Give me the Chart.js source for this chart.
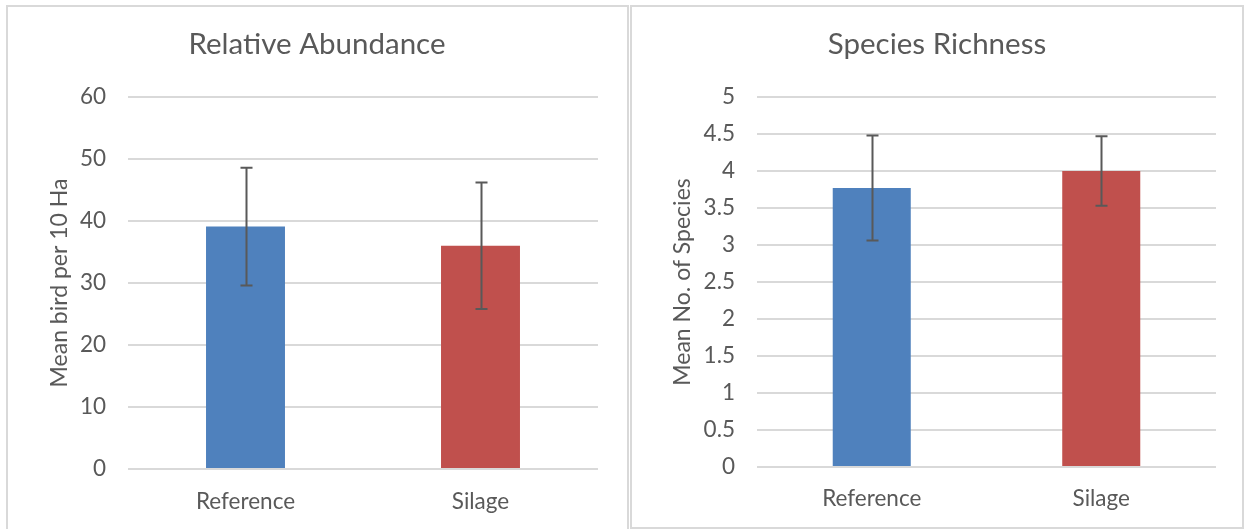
<!DOCTYPE html>
<html>
<head>
<meta charset="utf-8">
<script src="https://cdn.jsdelivr.net/npm/chart.js@4"></script>
<style>
  html, body { margin: 0; padding: 0; background: #fff; width: 1244px; height: 529px; overflow: hidden; }
  .panel { position: absolute; border: 2px solid #d9d9d9; box-sizing: border-box; }
  .wrap { position: absolute; }
</style>
</head>
<body>
<div class="panel" style="left:6px; top:5px; width:623px; height:540px;"></div>
<div class="panel" style="left:630px; top:5px; width:614px; height:524px;"></div>
<div class="wrap" style="left:8px; top:7px; width:618px; height:520px;"><canvas id="chartAbundance"></canvas></div>
<div class="wrap" style="left:632px; top:7px; width:610px; height:520px;"><canvas id="chartRichness"></canvas></div>
<script>
// ── data ──
const categories = ['Reference', 'Silage'];
const abundanceMeans = [39.1, 36.0];
const abundanceErrors = [9.5, 10.2];
const abundanceTicks = { min: 0, max: 60, step: 10 };
const richnessMeans = [3.77, 4.0];
const richnessErrors = [0.71, 0.47];
const richnessTicks = { min: 0, max: 5, step: 0.5 };
const barColors = ['#4F81BD', '#C0504D'];

const TEXT = '#595959';
const GRID = '#D9D9D9';
const FONT = "Lato, 'Open Sans', sans-serif";

// error bars drawn through the y scale
const errorBarPlugin = {
  id: 'errorBars',
  afterDatasetsDraw(chart, args, opts) {
    const ctx = chart.ctx;
    const meta = chart.getDatasetMeta(0);
    const y = chart.scales.y;
    const vals = chart.data.datasets[0].data;
    ctx.save();
    ctx.strokeStyle = '#595959';
    ctx.lineWidth = 2;
    meta.data.forEach((bar, i) => {
      const x = Math.round(bar.x) + 0.5;
      const top = y.getPixelForValue(vals[i] + opts.errors[i]);
      const bot = y.getPixelForValue(vals[i] - opts.errors[i]);
      ctx.beginPath();
      ctx.moveTo(x, top); ctx.lineTo(x, bot);
      ctx.moveTo(x - 6, top); ctx.lineTo(x + 6, top);
      ctx.moveTo(x - 6, bot); ctx.lineTo(x + 6, bot);
      ctx.stroke();
    });
    ctx.restore();
  }
};

function makeChart(el, cfg) {
  return new Chart(el, {
    type: 'bar',
    data: {
      labels: categories,
      datasets: [{
        data: cfg.means,
        backgroundColor: barColors,
        borderWidth: 0,
        categoryPercentage: 1,
        barPercentage: cfg.barPct,
      }],
    },
    plugins: [errorBarPlugin],
    options: {
      responsive: true,
      maintainAspectRatio: false,
      animation: false,
      // equal side padding keeps the title centred on the panel
      layout: { padding: { left: cfg.pad, right: cfg.pad, top: 0, bottom: 0 } },
      plugins: {
        legend: { display: false },
        tooltip: { enabled: false },
        errorBars: { errors: cfg.errors },
        title: {
          display: true,
          text: cfg.title,
          color: TEXT,
          font: { family: FONT, size: 29.5, weight: 'normal', lineHeight: 1.2 },
          padding: { top: 20, bottom: 34.6 },
        },
      },
      scales: {
        x: {
          grid: { display: false, drawTicks: false },
          border: { display: false },
          ticks: { color: TEXT, font: { family: FONT, size: 22.5 }, padding: cfg.xPad },
          afterFit: s => { s.height = cfg.xHeight; },
        },
        y: {
          min: cfg.ticks.min,
          max: cfg.ticks.max,
          grid: { color: GRID, lineWidth: 2, drawTicks: false },
          border: { display: false },
          ticks: {
            stepSize: cfg.ticks.step,
            color: TEXT,
            font: { family: FONT, size: 22.5 },
            padding: cfg.yPad,
            callback: v => String(v),
          },
          title: {
            display: true,
            text: cfg.yTitle,
            color: TEXT,
            font: { family: FONT, size: 23, lineHeight: 1.2 },
            padding: { top: cfg.yTitlePad, bottom: 0 },
          },
          afterFit: s => { s.width = cfg.yWidth; },
        },
      },
    },
  });
}

makeChart(document.getElementById('chartAbundance'), {
  title: 'Relative Abundance',
  yTitle: 'Mean bird per 10 Ha',
  means: abundanceMeans,
  errors: abundanceErrors,
  ticks: abundanceTicks,
  barPct: 0.336,
  pad: 28,
  yWidth: 92,
  yPad: 22,
  yTitlePad: 10,
  xHeight: 58,
  xPad: 19,
});

makeChart(document.getElementById('chartRichness'), {
  title: 'Species Richness',
  yTitle: 'Mean No. of Species',
  means: richnessMeans,
  errors: richnessErrors,
  ticks: richnessTicks,
  barPct: 0.34,
  pad: 26,
  yWidth: 99,
  yPad: 22,
  yTitlePad: 11,
  xHeight: 60,
  xPad: 18,
});
</script>
</body>
</html>
